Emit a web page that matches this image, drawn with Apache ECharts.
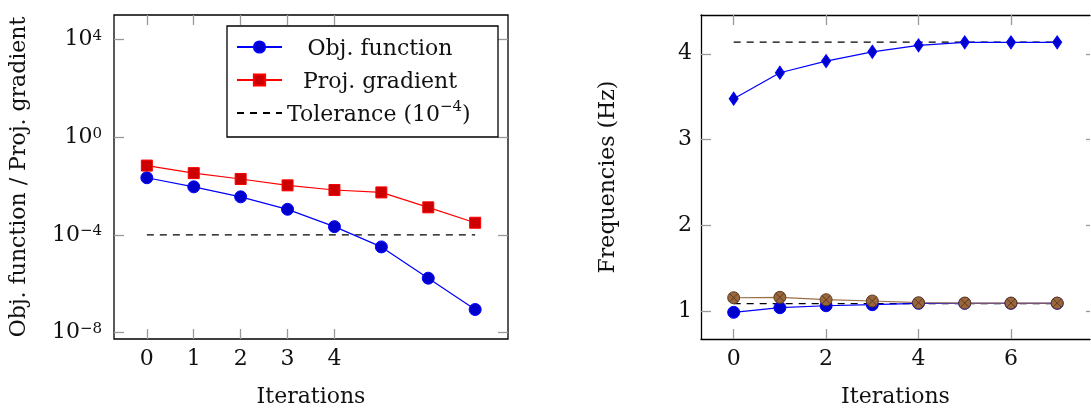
<!DOCTYPE html>
<html>
<head>
<meta charset="utf-8">
<script src="https://cdn.jsdelivr.net/npm/echarts@6/dist/echarts.min.js"></script>
<style>
html, body { margin: 0; padding: 0; background: #fff; }
#chart { width: 1091px; height: 415px; }
</style>
</head>
<body>
<div id="chart"></div>
<script>
// data
let iterations = [0, 1, 2, 3, 4, 5, 6, 7];
let objFunction = [0.0219, 0.0093, 0.00363, 0.00112, 2.19e-4, 3.24e-5, 1.7e-6, 8.9e-8];
let projGradient = [0.069, 0.0339, 0.0195, 0.0107, 0.0069, 0.0055, 0.00135, 3.16e-4];
let tolerance = 1e-4;

let freqMode1 = [0.985, 1.039, 1.062, 1.074, 1.09, 1.09, 1.09, 1.09];
let freqMode2 = [1.155, 1.16, 1.132, 1.117, 1.097, 1.093, 1.093, 1.093];
let freqMode3 = [3.476, 3.779, 3.915, 4.023, 4.098, 4.133, 4.133, 4.133];
let freqTargets = [1.087, 4.135];

let leftXTicks = [0, 1, 2, 3, 4];
let leftYTicks = [1e-8, 1e-4, 1, 1e4];
let rightXTicks = [0, 2, 4, 6];
let rightYTicks = [1, 2, 3, 4];

const FONT = 'DejaVu Serif';
const TXT = '#111';

function pairs(ys) {
    return iterations.map((x, i) => [x, ys[i]]);
}
function flat(y) {
    return [[iterations[0], y], [iterations[iterations.length - 1], y]];
}
function pow10Label(v) {
    let e = Math.round(Math.log10(v));
    return '{b|10}{s|' + (e < 0 ? '\u2212' + (-e) : e) + '}';
}

function tick(values, len) {
    return { show: true, inside: true, length: len || 10, customValues: values,
             lineStyle: { color: '#999', width: 1.3 } };
}
function label(values, margin, fmt) {
    return {
        show: true, customValues: values, margin: margin, formatter: fmt,
        fontFamily: FONT, fontSize: 22, color: TXT,
        rich: {
            b: { fontFamily: FONT, fontSize: 22, color: TXT, verticalAlign: 'bottom' },
            s: { fontFamily: FONT, fontSize: 15, color: TXT, verticalAlign: 'top' }
        }
    };
}
let noLine = { show: false, onZero: false };
let frameLine = { show: true, onZero: false, lineStyle: { color: '#000', width: 1.3 } };
let noSplit = { show: false };
let nameStyle = { fontFamily: FONT, fontSize: 22, color: TXT };

let blueCircle = { symbol: 'circle', symbolSize: 12,
    itemStyle: { color: '#0000cc', borderColor: '#0000ff', borderWidth: 1 } };
let otimes = 'path://M0,6A6,6,0,1,1,12,6A6,6,0,1,1,0,6ZM1.76,1.76L10.24,10.24M10.24,1.76L1.76,10.24';

let myChart = echarts.init(document.getElementById('chart'));

let option = {
    animation: false,
    grid: [
        { left: 114, top: 15, width: 394, height: 324, show: true,
          borderColor: '#000', borderWidth: 1.3 },
        // right frame lies just past the page edge, so only three sides are drawn
        { left: 701, top: 15, width: 389, height: 324, show: false }
    ],
    xAxis: [
        { type: 'value', gridIndex: 0, min: -0.7, max: 7.7,
          axisLine: noLine, splitLine: noSplit, axisTick: tick(leftXTicks),
          axisLabel: label(leftXTicks, 9),
          name: 'Iterations', nameLocation: 'middle', nameGap: 47, nameTextStyle: nameStyle },
        { type: 'value', gridIndex: 0, position: 'top', min: -0.7, max: 7.7,
          axisLine: noLine, splitLine: noSplit, axisTick: tick(leftXTicks),
          axisLabel: { show: false } },
        { type: 'value', gridIndex: 1, min: -0.707, max: 7.71,
          axisLine: frameLine, splitLine: noSplit, axisTick: tick(rightXTicks),
          axisLabel: label(rightXTicks, 9),
          name: 'Iterations', nameLocation: 'middle', nameGap: 47, nameTextStyle: nameStyle },
        { type: 'value', gridIndex: 1, position: 'top', min: -0.707, max: 7.71,
          axisLine: frameLine, splitLine: noSplit, axisTick: tick(rightXTicks),
          axisLabel: { show: false } }
    ],
    yAxis: [
        { type: 'log', logBase: 10, gridIndex: 0, min: 5.53e-9, max: 1e5,
          axisLine: noLine, splitLine: noSplit, axisTick: tick(leftYTicks),
          axisLabel: label(leftYTicks, 12, pow10Label),
          name: 'Obj. function / Proj. gradient', nameLocation: 'middle', nameGap: 84,
          nameTextStyle: nameStyle },
        { type: 'log', logBase: 10, gridIndex: 0, position: 'right', min: 5.53e-9, max: 1e5,
          axisLine: noLine, splitLine: noSplit, axisTick: tick(leftYTicks),
          axisLabel: { show: false } },
        { type: 'value', gridIndex: 1, min: 0.674, max: 4.452,
          axisLine: frameLine, splitLine: noSplit, axisTick: tick(rightYTicks),
          axisLabel: label(rightYTicks, 9),
          name: 'Frequencies (Hz)', nameLocation: 'middle', nameGap: 82,
          nameTextStyle: nameStyle },
        { type: 'value', gridIndex: 1, position: 'right', min: 0.674, max: 4.452,
          axisLine: noLine, splitLine: noSplit, axisTick: tick(rightYTicks, 4),
          axisLabel: { show: false } }
    ],
    legend: {
        data: ['Obj. function', 'Proj. gradient',
               { name: 'Tolerance', itemStyle: { opacity: 0 } }],
        orient: 'vertical', left: 227, top: 26,
        itemWidth: 45, itemHeight: 14, itemGap: 7,
        padding: [8, 25, 11, 9],
        borderColor: '#000', borderWidth: 1.3, backgroundColor: '#fff',
        formatter: function (name) {
            if (name === 'Tolerance') return '{t|Tolerance (10}{s|\u22124}{t|)}';
            return '{c|' + name + '}';
        },
        textStyle: {
            fontFamily: FONT, fontSize: 22, color: TXT, lineHeight: 26,
            rich: {
                c: { fontFamily: FONT, fontSize: 22, color: TXT, width: 186, align: 'center', verticalAlign: 'bottom' },
                t: { fontFamily: FONT, fontSize: 22, color: TXT, verticalAlign: 'bottom' },
                s: { fontFamily: FONT, fontSize: 15, color: TXT, verticalAlign: 'top' }
            }
        }
    },
    series: [
        Object.assign({ name: 'Obj. function', type: 'line', xAxisIndex: 0, yAxisIndex: 0,
          data: pairs(objFunction), lineStyle: { color: '#0000ff', width: 1.2 } }, blueCircle),
        { name: 'Proj. gradient', type: 'line', xAxisIndex: 0, yAxisIndex: 0,
          data: pairs(projGradient), symbol: 'rect', symbolSize: 11,
          lineStyle: { color: '#ff0000', width: 1.2 },
          itemStyle: { color: '#cc0000', borderColor: '#ff0000', borderWidth: 1 } },
        { name: 'Tolerance', type: 'line', xAxisIndex: 0, yAxisIndex: 0, z: 1,
          data: flat(tolerance), symbol: 'none',
          lineStyle: { color: '#000', width: 1.2, type: [7, 6] },
          itemStyle: { color: '#000' } },

        { name: 'target1', type: 'line', xAxisIndex: 2, yAxisIndex: 2, z: 1,
          data: flat(freqTargets[0]), symbol: 'none',
          lineStyle: { color: '#000', width: 1.2, type: [7, 6] } },
        { name: 'target2', type: 'line', xAxisIndex: 2, yAxisIndex: 2, z: 1,
          data: flat(freqTargets[1]), symbol: 'none',
          lineStyle: { color: '#000', width: 1.2, type: [7, 6] } },
        { name: 'mode3', type: 'line', xAxisIndex: 2, yAxisIndex: 2,
          data: pairs(freqMode3), symbol: 'diamond', symbolSize: [9, 13],
          lineStyle: { color: '#0000ff', width: 1.2 },
          itemStyle: { color: '#0000cc', borderColor: '#0000ff', borderWidth: 1 } },
        Object.assign({ name: 'mode1', type: 'line', xAxisIndex: 2, yAxisIndex: 2,
          data: pairs(freqMode1), lineStyle: { color: '#0000ff', width: 1.2 } }, blueCircle),
        { name: 'mode2', type: 'line', xAxisIndex: 2, yAxisIndex: 2,
          data: pairs(freqMode2), symbol: otimes, symbolSize: 12,
          lineStyle: { color: '#9a7048', width: 1.2 },
          itemStyle: { color: '#99663d', borderColor: '#5e3c1e', borderWidth: 1 } }
    ]
};
myChart.setOption(option);
</script>
</body>
</html>
